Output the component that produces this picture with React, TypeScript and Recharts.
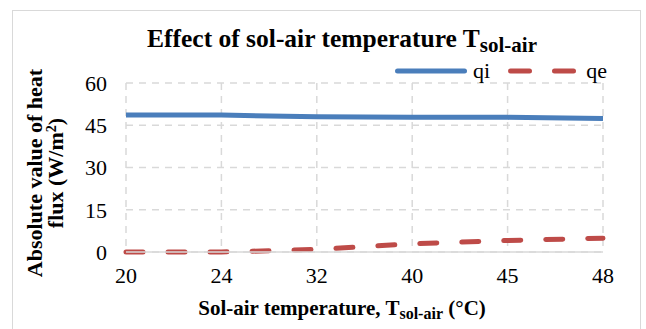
import React from "react";
import { LineChart, Line, XAxis, YAxis, CartesianGrid, Legend } from "recharts";

const categories = ["20", "24", "32", "40", "45", "48"];
const qiValues = [48.6, 48.6, 48.0, 47.8, 47.8, 47.4];
const qeValues = [0, 0, 0.9, 2.9, 4.1, 4.9];
const yTicks = [0, 15, 30, 45, 60];
const seriesOrder = ["qi", "qe"];

const data = categories.map((t, i) => ({ t, qi: qiValues[i], qe: qeValues[i] }));

const SERIF = "Liberation Serif, Tinos, Times New Roman, DejaVu Serif, serif";
const BLUE = "#4A7EBB";
const RED = "#BE4B48";
const GRID = "#D9D9D9";

const dashMap: Record<string, string | undefined> = { qi: undefined, qe: "19 25" };

const LegendContent = (props: any) => {
  const payload = [...(props.payload || [])].sort(
    (a: any, b: any) => seriesOrder.indexOf(a.dataKey) - seriesOrder.indexOf(b.dataKey)
  );
  return (
    <div style={{ display: "flex", alignItems: "center", fontFamily: SERIF, fontSize: 22 }}>
      {payload.map((p: any) => (
        <div key={p.dataKey} style={{ display: "flex", alignItems: "center", marginRight: 18 }}>
          <svg width={72} height={10} style={{ display: "block" }}>
            <line
              x1={2.5}
              y1={5}
              x2={69.5}
              y2={5}
              stroke={p.color}
              strokeWidth={5}
              strokeLinecap="round"
              strokeDasharray={dashMap[p.dataKey]}
            />
          </svg>
          <span style={{ marginLeft: 6, lineHeight: "22px", color: "#000" }}>{p.value}</span>
        </div>
      ))}
    </div>
  );
};

export default function App() {
  return (
    <div style={{ position: "absolute", left: 0, top: 0, width: 646, height: 329, background: "#fff", overflow: "hidden" }}>
      <div
        style={{
          position: "absolute",
          left: 12,
          top: 10,
          width: 629,
          height: 340,
          border: "1px solid #D9D9D9",
          boxSizing: "border-box",
        }}
      />
      <LineChart
        width={646}
        height={329}
        data={data}
        margin={{ top: 83, right: 43, bottom: 0, left: 0 }}
        style={{ position: "absolute", left: 0, top: 0 }}
      >
        <CartesianGrid stroke={GRID} strokeWidth={1.5} strokeDasharray="7 6" />
        <XAxis
          dataKey="t"
          height={77}
          tickLine={false}
          tickSize={0}
          tickMargin={15}
          axisLine={{ stroke: GRID, strokeWidth: 1.5 }}
          tick={{ fill: "#000", fontSize: 22, fontFamily: SERIF }}
          interval={0}
        />
        <YAxis
          width={126}
          domain={[0, 60]}
          ticks={yTicks}
          tickLine={false}
          tickSize={0}
          tickMargin={19}
          axisLine={false}
          tick={{ fill: "#000", fontSize: 22, fontFamily: SERIF }}
        />
        <Legend
          layout="horizontal"
          verticalAlign="middle"
          align="center"
          content={LegendContent}
          wrapperStyle={{ position: "absolute", left: 395, top: 60, width: 260, height: 24 }}
        />
        <Line
          type="linear"
          dataKey="qi"
          name="qi"
          stroke={BLUE}
          strokeWidth={5}
          dot={false}
          activeDot={false}
          isAnimationActive={false}
        />
        <Line
          type="linear"
          dataKey="qe"
          name="qe"
          stroke={RED}
          strokeWidth={5}
          strokeDasharray="17 25"
          strokeLinecap="round"
          dot={false}
          activeDot={false}
          isAnimationActive={false}
        />
      </LineChart>
      <div
        style={{
          position: "absolute",
          left: 342,
          top: 24,
          transform: "translateX(-50%)",
          fontFamily: SERIF,
          fontWeight: "bold",
          fontSize: 25.5,
          whiteSpace: "nowrap",
          lineHeight: "30px",
          color: "#000",
        }}
      >
        Effect of sol-air temperature T<sub style={{ fontSize: 21, verticalAlign: "-5px" }}>sol-air</sub>
      </div>
      <div
        style={{
          position: "absolute",
          left: 342,
          top: 296,
          transform: "translateX(-50%)",
          fontFamily: SERIF,
          fontWeight: "bold",
          fontSize: 21,
          whiteSpace: "nowrap",
          lineHeight: "24px",
          color: "#000",
        }}
      >
        Sol-air temperature, T<sub style={{ fontSize: 16, verticalAlign: "-4px" }}>sol-air</sub> (°C)
      </div>
      <div
        style={{
          position: "absolute",
          left: 45,
          top: 173,
          transform: "translate(-50%, -50%) rotate(-90deg)",
          fontFamily: SERIF,
          fontWeight: "bold",
          fontSize: 22,
          whiteSpace: "nowrap",
          lineHeight: "21px",
          textAlign: "center",
          color: "#000",
        }}
      >
        Absolute value of heat
        <br />
        flux (W/m<sup style={{ fontSize: 14, verticalAlign: "7px", lineHeight: 0 }}>2</sup>)
      </div>
    </div>
  );
}
